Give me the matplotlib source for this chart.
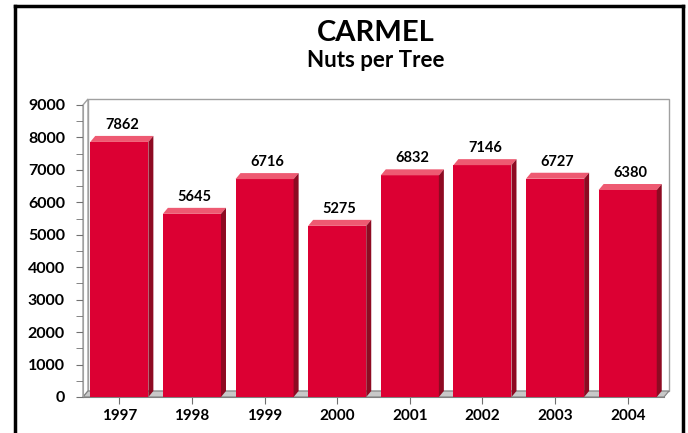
import matplotlib
matplotlib.use("Agg")
import matplotlib.pyplot as plt
import numpy as np
from matplotlib.patches import Polygon, Rectangle
from matplotlib.lines import Line2D

years = ["1997", "1998", "1999", "2000", "2001", "2002", "2003", "2004"]
nuts = [7862, 5645, 6716, 5275, 6832, 7146, 6727, 6380]

title = "CARMEL"
subtitle = "Nuts per Tree"

plt.rcParams["font.family"] = ["Lato", "DejaVu Sans"]
plt.rcParams["font.weight"] = "bold"

front = "#DC0033"
top_c = "#EE5A72"
side_c = "#8E0A22"
wall_edge = "#A0A0A0"

fig = plt.figure(figsize=(6.88, 4.33), dpi=100)
ax = fig.add_axes([83 / 688, 36 / 433, 581 / 688, 292 / 433])
ax.set_xlim(-0.5, len(years) - 0.5)
ax.set_ylim(0, 9000)

# 3d depth in data units (5px right, 6px up)
p0 = ax.transData.transform((0, 0))
dx, dy = ax.transData.inverted().transform(p0 + np.array([5, 6]))
x0, x1 = -0.5, len(years) - 0.5

# back wall, side wall and floor
ax.add_patch(Rectangle((x0 + dx, dy), x1 - x0, 9000, facecolor="white",
                       edgecolor=wall_edge, lw=1.0, clip_on=False, zorder=0))
ax.add_patch(Polygon([(x0, 0), (x0 + dx, dy), (x0 + dx, 9000 + dy), (x0, 9000)],
                     closed=True, facecolor="white", edgecolor=wall_edge, lw=1.0,
                     clip_on=False, zorder=0.5))
ax.add_patch(Polygon([(x0, 0), (x1, 0), (x1 + dx, dy), (x0 + dx, dy)],
                     closed=True, facecolor="#C8C8C8", edgecolor="#808080", lw=0.8,
                     clip_on=False, zorder=1))

# bars with 3d top and side
w = 0.8
xs = np.arange(len(years))
ax.bar(xs, nuts, width=w, color=front, edgecolor="none", zorder=3)
for x, v in zip(xs, nuts):
    l, r = x - w / 2, x + w / 2
    ax.add_patch(Polygon([(l, v), (r, v), (r + dx, v + dy), (l + dx, v + dy)],
                         closed=True, facecolor=top_c, edgecolor="none",
                         clip_on=False, zorder=3))
    ax.add_patch(Polygon([(r, 0), (r + dx, dy), (r + dx, v + dy), (r, v)],
                         closed=True, facecolor=side_c, edgecolor="none",
                         clip_on=False, zorder=3))
    ax.text(x + dx / 2, v + dy + 120, str(v), ha="center", va="bottom",
            fontsize=10.5, fontweight="bold", color="black", zorder=4)

ax.set_yticks(np.arange(0, 9001, 1000))
ax.set_yticks(np.arange(500, 9000, 1000), minor=True)
ax.set_yticklabels([str(t) for t in range(0, 9001, 1000)], fontsize=11.5,
                   fontweight="bold")
ax.set_xticks(xs)
ax.set_xticklabels(years, fontsize=11, fontweight="bold")
ax.tick_params(axis="y", which="both", length=5, color="#707070", pad=8)
ax.tick_params(axis="x", length=5, color="#707070", pad=4)
ax.spines["top"].set_visible(False)
ax.spines["right"].set_visible(False)
ax.spines["left"].set_color(wall_edge)
ax.spines["bottom"].set_color("#808080")
ax.patch.set_visible(False)

fig.text(376 / 688, 1 - 41 / 433, title, ha="center", va="baseline",
         fontsize=21, fontweight="bold")
fig.text(376 / 688, 1 - 67 / 433, subtitle, ha="center", va="baseline",
         fontsize=16, fontweight="bold")

# black frame
lx, rx, ty = 14.5 / 688, 683.3 / 688, 1 - 6.3 / 433
for xd, yd in [((lx, lx), (0, ty)), ((lx, rx), (ty, ty)), ((rx, rx), (0, ty))]:
    fig.add_artist(Line2D(xd, yd, color="black", lw=2.5,
                          solid_capstyle="projecting"))

fig.savefig("out.png", dpi=100)
